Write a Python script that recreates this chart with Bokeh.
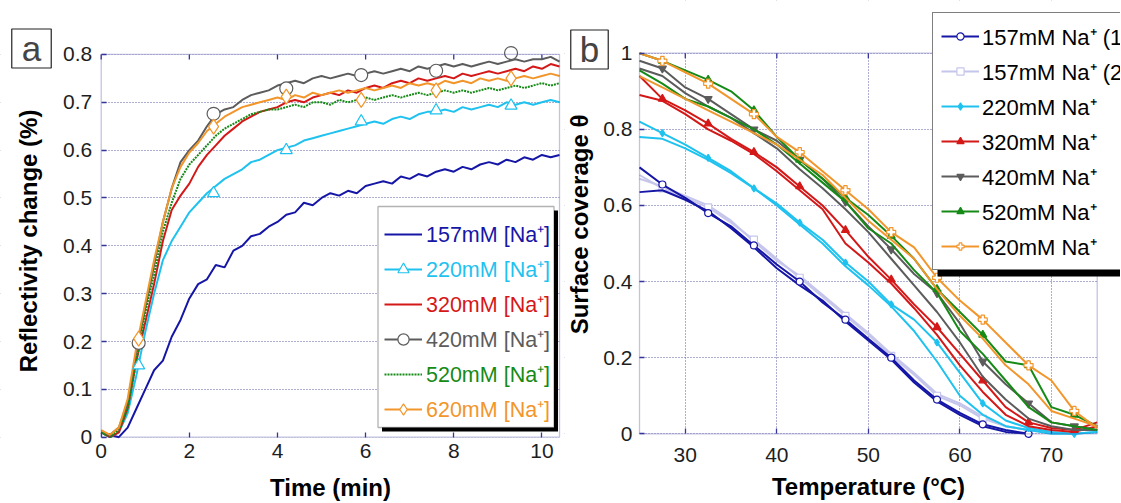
import numpy as np
from bokeh.plotting import figure
from bokeh.layouts import row
from bokeh.models import (Legend, LegendItem, FixedTicker, BoxAnnotation, Label, Range1d)
from bokeh.embed import file_html
from bokeh.resources import INLINE

FONT = "Liberation Sans"
NAVY = "#35359c"
GRID = "#5c5ca0"
TXT = "#1e1e1e"

# ---------------- Panel a data (time in min, reflectivity change in %) ----------------
time_min = np.round(np.arange(0, 10.41, 0.2), 2)
refl_157 = [0.01, 0.005, 0.0, 0.02, 0.06, 0.10, 0.14, 0.16, 0.21, 0.245, 0.29, 0.32, 0.33, 0.36, 0.355,
            0.39, 0.40, 0.42, 0.425, 0.44, 0.45, 0.465, 0.47, 0.49, 0.485, 0.50, 0.51, 0.505, 0.515, 0.51,
            0.525, 0.53, 0.535, 0.53, 0.545, 0.54, 0.55, 0.545, 0.555, 0.56, 0.555, 0.565, 0.56, 0.57,
            0.575, 0.57, 0.58, 0.575, 0.585, 0.58, 0.59, 0.585, 0.59]
refl_220 = [0.01, 0.0, 0.01, 0.05, 0.13, 0.22, 0.30, 0.37, 0.41, 0.44, 0.47, 0.49, 0.51, 0.525, 0.54,
            0.55, 0.56, 0.575, 0.58, 0.59, 0.60, 0.605, 0.61, 0.62, 0.625, 0.63, 0.635, 0.64, 0.645, 0.65,
            0.655, 0.66, 0.655, 0.665, 0.67, 0.665, 0.675, 0.68, 0.68, 0.685, 0.68, 0.69, 0.685, 0.69,
            0.695, 0.69, 0.70, 0.695, 0.70, 0.695, 0.70, 0.705, 0.70]
refl_320 = [0.01, 0.0, 0.01, 0.06, 0.16, 0.24, 0.32, 0.41, 0.475, 0.505, 0.53, 0.565, 0.59, 0.61, 0.63,
            0.645, 0.66, 0.67, 0.68, 0.685, 0.69, 0.70, 0.705, 0.70, 0.71, 0.715, 0.72, 0.715, 0.725, 0.72,
            0.73, 0.735, 0.73, 0.74, 0.745, 0.74, 0.75, 0.745, 0.75, 0.755, 0.75, 0.76, 0.755, 0.76,
            0.765, 0.76, 0.765, 0.77, 0.765, 0.775, 0.77, 0.78, 0.775]
refl_420 = [0.01, 0.005, 0.02, 0.07, 0.18, 0.27, 0.36, 0.45, 0.52, 0.575, 0.60, 0.62, 0.65, 0.675, 0.685,
            0.69, 0.705, 0.715, 0.72, 0.725, 0.735, 0.74, 0.745, 0.74, 0.75, 0.755, 0.75, 0.755, 0.76, 0.755,
            0.76, 0.765, 0.76, 0.765, 0.77, 0.765, 0.775, 0.77, 0.775, 0.78, 0.775, 0.78, 0.775, 0.78,
            0.785, 0.78, 0.785, 0.79, 0.785, 0.79, 0.79, 0.795, 0.785]
refl_520 = [0.01, 0.0, 0.015, 0.06, 0.16, 0.26, 0.34, 0.43, 0.49, 0.54, 0.57, 0.59, 0.61, 0.63, 0.645,
            0.655, 0.665, 0.675, 0.68, 0.685, 0.685, 0.69, 0.695, 0.69, 0.70, 0.70, 0.695, 0.705, 0.70, 0.705,
            0.71, 0.705, 0.71, 0.715, 0.71, 0.715, 0.72, 0.715, 0.72, 0.725, 0.72, 0.725, 0.72, 0.725,
            0.73, 0.725, 0.73, 0.735, 0.73, 0.735, 0.74, 0.735, 0.74]
refl_620 = [0.015, 0.005, 0.02, 0.08, 0.19, 0.28, 0.37, 0.45, 0.52, 0.565, 0.595, 0.615, 0.64, 0.655, 0.67,
            0.68, 0.69, 0.695, 0.70, 0.705, 0.71, 0.705, 0.715, 0.71, 0.72, 0.715, 0.72, 0.725, 0.72, 0.725,
            0.73, 0.725, 0.73, 0.735, 0.73, 0.74, 0.735, 0.74, 0.735, 0.745, 0.74, 0.745, 0.74, 0.75,
            0.745, 0.75, 0.745, 0.75, 0.755, 0.75, 0.755, 0.76, 0.755]
marker_time = [0.85, 2.55, 4.2, 5.9, 7.6, 9.3]
marker_220 = [0.15, 0.51, 0.60, 0.66, 0.683, 0.693]
marker_420 = [0.197, 0.676, 0.729, 0.757, 0.766, 0.803]
marker_620 = [0.206, 0.649, 0.712, 0.705, 0.725, 0.75]
labels_a = ["157mM [Na\u207a]", "220mM [Na\u207a]", "320mM [Na\u207a]",
            "420mM [Na\u207a]", "520mM [Na\u207a]", "620mM [Na\u207a]"]
xticks_a = [0, 2, 4, 6, 8, 10]
yticks_a = [0, 0.1, 0.2, 0.3, 0.4, 0.5, 0.6, 0.7, 0.8]

# ---------------- Panel b data (temperature in C, surface coverage) ----------------
temp_c = [25, 27.5, 30, 32.5, 35, 37.5, 40, 42.5, 45, 47.5, 50, 52.5, 55, 57.5, 60, 62.5, 65, 67.5, 70, 72.5, 75]
nan = float("nan")
cov_157_1a = [0.70, 0.655, 0.62, 0.58, 0.545, 0.495, 0.445, 0.40, 0.345, 0.30, 0.25, 0.20, 0.14, 0.09, 0.055, 0.025, 0.01, 0.0, nan, nan, nan]
cov_157_1b = [0.635, 0.64, 0.615, 0.585, 0.54, 0.49, 0.435, 0.39, 0.35, 0.295, 0.245, 0.195, 0.135, 0.085, 0.05, 0.02, 0.005, 0.0, nan, nan, nan]
cov_157_2a = [0.68, 0.645, 0.62, 0.595, 0.555, 0.51, 0.46, 0.41, 0.36, 0.31, 0.26, 0.205, 0.155, 0.10, 0.075, 0.04, 0.02, 0.01, 0.005, nan, nan]
cov_157_2b = [0.67, 0.65, 0.625, 0.60, 0.56, 0.505, 0.455, 0.415, 0.365, 0.315, 0.265, 0.21, 0.16, 0.105, 0.08, 0.045, 0.02, 0.01, 0.005, nan, nan]
cov_220a = [0.82, 0.79, 0.76, 0.725, 0.69, 0.645, 0.605, 0.555, 0.51, 0.45, 0.40, 0.34, 0.30, 0.24, 0.16, 0.08, 0.035, 0.015, 0.005, 0.0, 0.005]
cov_220b = [0.78, 0.775, 0.75, 0.72, 0.685, 0.645, 0.60, 0.55, 0.50, 0.44, 0.39, 0.335, 0.27, 0.19, 0.10, 0.05, 0.02, 0.01, 0.0, 0.0, 0.005]
cov_320a = [0.94, 0.88, 0.85, 0.815, 0.775, 0.74, 0.70, 0.65, 0.60, 0.535, 0.465, 0.405, 0.34, 0.28, 0.21, 0.14, 0.07, 0.03, 0.015, 0.01, 0.03]
cov_320b = [0.89, 0.875, 0.84, 0.80, 0.77, 0.735, 0.69, 0.64, 0.59, 0.50, 0.45, 0.395, 0.33, 0.26, 0.18, 0.11, 0.05, 0.02, 0.01, 0.005, 0.02]
cov_420a = [0.98, 0.96, 0.91, 0.88, 0.84, 0.80, 0.77, 0.72, 0.67, 0.61, 0.545, 0.485, 0.42, 0.37, 0.29, 0.19, 0.13, 0.08, 0.03, 0.02, 0.01]
cov_420b = [0.96, 0.94, 0.895, 0.86, 0.83, 0.79, 0.75, 0.695, 0.645, 0.59, 0.53, 0.46, 0.39, 0.32, 0.24, 0.15, 0.09, 0.04, 0.02, 0.01, 0.01]
cov_520a = [1.0, 0.98, 0.955, 0.93, 0.90, 0.85, 0.78, 0.72, 0.67, 0.62, 0.575, 0.52, 0.46, 0.38, 0.32, 0.26, 0.19, 0.18, 0.07, 0.05, 0.02]
cov_520b = [0.955, 0.92, 0.88, 0.86, 0.83, 0.80, 0.76, 0.71, 0.66, 0.61, 0.54, 0.50, 0.43, 0.37, 0.27, 0.21, 0.14, 0.07, 0.03, 0.02, 0.01]
cov_620a = [1.0, 0.98, 0.95, 0.92, 0.88, 0.84, 0.78, 0.74, 0.69, 0.64, 0.59, 0.53, 0.49, 0.41, 0.35, 0.30, 0.24, 0.18, 0.14, 0.06, 0.015]
cov_620b = [0.94, 0.91, 0.88, 0.85, 0.82, 0.79, 0.76, 0.72, 0.68, 0.62, 0.56, 0.51, 0.46, 0.38, 0.31, 0.25, 0.18, 0.13, 0.06, 0.04, 0.02]
labels_b = ["157mM Na\u207a (1)", "157mM Na\u207a (2)", "220mM Na\u207a", "320mM Na\u207a",
            "420mM Na\u207a", "520mM Na\u207a", "620mM Na\u207a"]
xticks_b = [30, 40, 50, 60, 70]
yticks_b = [0, 0.2, 0.4, 0.6, 0.8, 1]

C_BLUE = "#1616a6"
C_LAV = "#c6c6ec"
C_CYAN = "#1fc2ef"
C_RED = "#d41818"
C_GRAY = "#5c5c5c"
C_GREEN = "#168a16"
C_ORANGE = "#f2962c"

H = 502  # figure height in px


def sbox(**kw):
    d = dict(left_units="screen", right_units="screen", top_units="screen", bottom_units="screen")
    d.update(kw)
    return BoxAnnotation(**d)


def cover(**kw):
    return BoxAnnotation(fill_color="white", fill_alpha=1, line_alpha=0, level="underlay", **kw)


def style(p, xb, yb, ylab_bounds, xticks, yticks, xgrid, stand, xlabel, ylabel, tick_len):
    """xb, yb: (min, max) of the visible plot box in data units.
    stand: (x tick label, x title, y tick label, y title) standoffs"""
    p.outline_line_alpha = 0
    p.background_fill_color = "white"
    p.border_fill_color = "white"
    xa, ya = p.xaxis[0], p.yaxis[0]
    xa.axis_label, ya.axis_label = xlabel, ylabel
    xa.bounds = xb
    ya.bounds = ylab_bounds
    xa.fixed_location = yb[0]
    ya.fixed_location = xb[0]
    for ax, tk in ((xa, xticks), (ya, yticks)):
        ax.ticker = FixedTicker(ticks=tk)
        ax.axis_line_alpha = 0          # the plot box is drawn by frame_box()
        ax.major_tick_line_color = NAVY
        ax.major_tick_line_width = 1.3
        ax.major_tick_in = 5
        ax.major_tick_out = 0
        ax.minor_tick_in = 0
        ax.minor_tick_out = 0
        ax.major_label_text_font = FONT
        ax.major_label_text_font_size = "21px"
        ax.major_label_text_color = TXT
        ax.axis_label_text_font = FONT
        ax.axis_label_text_font_size = "24px"
        ax.axis_label_text_font_style = "bold"
        ax.axis_label_text_color = "black"
    xa.major_label_standoff, xa.axis_label_standoff, ya.major_label_standoff, ya.axis_label_standoff = stand
    p.ygrid.grid_line_color = GRID
    p.ygrid.grid_line_dash = "1 2"
    p.ygrid.grid_line_width = 1
    if xgrid:
        p.xgrid.grid_line_color = GRID
        p.xgrid.grid_line_dash = "1 2"
        p.xgrid.grid_line_width = 1
    else:
        p.xgrid.visible = False
    # hide grid parts outside the plot box (drawn right above the grids)
    p.add_layout(cover(right=xb[0]))
    p.add_layout(cover(left=xb[1]))
    p.add_layout(cover(bottom=yb[1]))
    p.add_layout(cover(top=yb[0]))
    # top tick marks (inward)
    n = len(xticks)
    p.segment(x0=xticks, y0=[yb[1]] * n, x1=xticks, y1=[yb[1] - tick_len] * n,
              line_color=NAVY, line_width=1.3)


def frame_box(p, xb, yb):
    p.add_layout(BoxAnnotation(left=xb[0], right=xb[1], bottom=yb[0], top=yb[1], fill_alpha=0,
                               line_color=NAVY, line_width=1.3))


# ================= Panel a =================
XA = (0, 10.4)
YA = (0, 0.8)
pa = figure(width=564, height=H, x_range=Range1d(-2.285, 10.513), y_range=Range1d(-0.1365, 0.9128),
            output_backend="svg", toolbar_location=None,
            min_border_left=0, min_border_right=0, min_border_top=0, min_border_bottom=0)
style(pa, XA, YA, (0, 0.82), xticks_a, yticks_a, False, (7, 12, 9, 18), "Time (min)",
      "Reflectivity change (%)", 5 / 478.4)
pa.yaxis[0].major_label_overrides = {0: "0"}

r157 = pa.line(time_min, refl_157, line_color=C_BLUE, line_width=2)
r220 = pa.line(time_min, refl_220, line_color=C_CYAN, line_width=2)
r320 = pa.line(time_min, refl_320, line_color=C_RED, line_width=2)
r420 = pa.line(time_min, refl_420, line_color=C_GRAY, line_width=2)
r520 = pa.line(time_min, refl_520, line_color=C_GREEN, line_width=2, line_dash="2 1")
r620 = pa.line(time_min, refl_620, line_color=C_ORANGE, line_width=2)
m220 = pa.scatter(marker_time, marker_220, marker="triangle", size=12, fill_color="white",
                  line_color=C_CYAN, line_width=1.2)
m420 = pa.scatter(marker_time, marker_420, marker="circle", size=13, fill_color="white",
                  line_color=C_GRAY, line_width=1.2)
m620 = pa.scatter(marker_time, marker_620, marker="diamond", size=15, fill_color="white",
                  line_color=C_ORANGE, line_width=1.2)
frame_box(pa, XA, YA)

# legend box with shadow (screen px from the canvas bottom-left)
pa.add_layout(sbox(left=381.5, right=557.5, bottom=71, top=292, fill_color="black", fill_alpha=1, line_alpha=0))
pa.add_layout(sbox(left=377.5, right=553.5, bottom=75, top=296, fill_color="white", fill_alpha=1,
                   line_color="black", line_width=1.3))
rows_a = [[r157], [r220, m220], [r320], [r420, m420], [r520], [r620, m620]]
cols_a = [C_BLUE, C_CYAN, C_RED, C_GRAY, C_GREEN, C_ORANGE]
for i, (lab, rends, col) in enumerate(zip(labels_a, rows_a, cols_a)):
    y0 = H - (234 + 35 * i) - 14
    lg = Legend(items=[LegendItem(label=lab, renderers=rends)], location=(384, y0),
                padding=0, margin=0, spacing=0, glyph_width=38, glyph_height=28,
                label_height=28, label_standoff=4, label_text_font=FONT,
                label_text_font_size="21.5px", label_text_color=col,
                border_line_alpha=0, background_fill_alpha=0)
    pa.add_layout(lg)

pa.add_layout(Label(x=31, y=H - 48, x_units="screen", y_units="screen", text="a",
                    text_font=FONT, text_font_size="35px", text_align="center",
                    text_baseline="middle", border_line_color="#222222", border_line_width=1.2,
                    background_fill_color="white", padding=dict(left=10, right=10, top=0, bottom=0)))

# ================= Panel b =================
XB = (25, 75)
YB = (0, 1)
pb = figure(width=556, height=H, x_range=Range1d(16.807, 77.545), y_range=Range1d(-0.1805, 1.1385),
            output_backend="svg", toolbar_location=None,
            min_border_left=0, min_border_right=0, min_border_top=0, min_border_bottom=0)
style(pb, XB, YB, (0, 1.1), xticks_b, yticks_b, True, (14, 8, 7, 7), "Temperature (\u00b0C)",
      "Surface coverage \u03b8", 5 / 380.6)
pb.yaxis[0].major_label_overrides = {0: "0", 1: "1"}

series_b = [
    (cov_157_2a, cov_157_2b, C_LAV, "square", "white", 7),
    (cov_157_1a, cov_157_1b, C_BLUE, "circle", "white", 7),
    (cov_220a, cov_220b, C_CYAN, "diamond", C_CYAN, 7),
    (cov_320a, cov_320b, C_RED, "triangle", C_RED, 8),
    (cov_420a, cov_420b, C_GRAY, "inverted_triangle", C_GRAY, 8),
    (cov_520a, cov_520b, C_GREEN, "triangle", C_GREEN, 8),
    (cov_620a, cov_620b, C_ORANGE, "plus", "white", 9),
]
leg_rends = []
for ya, yb, col, mk, fc, sz in series_b:
    pb.line(temp_c, yb, line_color=col, line_width=2)
    la = pb.line(temp_c, ya, line_color=col, line_width=2)
    sc = pb.scatter(temp_c[1::2], ya[1::2], marker=mk, size=sz, fill_color=fc,
                    line_color=col, line_width=1.2)
    leg_rends.append([la, sc])
frame_box(pb, XB, YB)

order = [1, 0, 2, 3, 4, 5, 6]
items_b = [LegendItem(label=labels_b[k], renderers=leg_rends[order[k]]) for k in range(7)]
pb.add_layout(sbox(left=373, right=600, bottom=H - 276, top=H - 18, fill_color="black", fill_alpha=1,
                   line_alpha=0))
lgb = Legend(items=items_b, location=(368, H - 270), padding=8, margin=0, spacing=5,
             glyph_width=38, glyph_height=18, label_height=30, label_standoff=3,
             label_text_font=FONT, label_text_font_size="22px", label_text_color="black",
             border_line_color="black", border_line_width=1.3, background_fill_color="white",
             background_fill_alpha=1)
pb.add_layout(lgb)

pb.add_layout(Label(x=25, y=H - 49, x_units="screen", y_units="screen", text="b",
                    text_font=FONT, text_font_size="35px", text_align="center",
                    text_baseline="middle", border_line_color="#222222", border_line_width=1.2,
                    background_fill_color="white", padding=dict(left=9, right=9, top=0, bottom=0)))

layout = row(pa, pb)
open("out.html", "w").write(file_html(layout, INLINE))
